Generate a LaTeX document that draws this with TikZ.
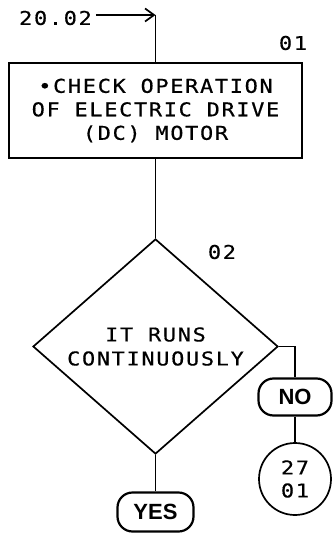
\documentclass[tikz,border=0pt]{standalone}
\usepackage{fontspec}
\newfontfamily\plotfont[LetterSpace=9,FakeStretch=1.15,FakeBold=0.6]{DejaVu Sans Mono}
\newfontfamily\tagfont{Liberation Sans}
\usetikzlibrary{shapes.geometric,arrows.meta}
\tikzset{
  stepbox/.style={draw,minimum width=293pt,minimum height=95pt,align=center,
    font=\plotfont\fontsize{19}{23.5}\selectfont},
  testbox/.style={draw,diamond,inner sep=0pt,minimum width=245pt,minimum height=213pt,
    align=center,font=\plotfont\fontsize{19}{24}\selectfont},
  exitbox/.style={draw,rounded corners=15pt,line width=2.2pt,
    font=\tagfont\bfseries\fontsize{22}{22}\selectfont},
  linkcirc/.style={draw,circle,minimum size=72pt,inner sep=0pt,align=center,
    font=\plotfont\fontsize{19}{23}\selectfont},
  tag/.style={font=\plotfont\fontsize{19}{19}\selectfont}
}
\begin{document}
\begin{tikzpicture}[x=1pt,y=-1pt,line width=1.7pt,
  >={Straight Barb[length=9pt,width=13pt]}]
\useasboundingbox (0,0) rectangle (332,534);
% entry from 20.02
\node[tag,anchor=west] (src) at (15,18) {20.02};
\coordinate (corner) at (155.5,15);
\node[stepbox] (chk) at (155.5,110.5) {•CHECK OPERATION\\OF ELECTRIC DRIVE\\(DC) MOTOR};
\node[tag] (n01) at (293,43) {01};
\draw[->] (src.east |- corner) -- (corner);
\draw (corner) -- (chk.north);
% decision
\node[testbox] (runs) at (155.5,346.5) {IT RUNS\\CONTINUOUSLY};
\node[tag] (n02) at (222,252) {02};
\draw (chk.south) -- (runs.north);
\node[exitbox,minimum width=73pt,minimum height=37pt] (no) at (295,397) {NO};
\node[linkcirc] (goto) at (295,479) {27\\01};
\node[exitbox,minimum width=76pt,minimum height=39pt] (yes) at (155.5,512) {YES};
\draw (runs.east) -| (no.north);
\draw (no) -- (goto);
\draw (runs.south) -- (yes.north);
\end{tikzpicture}
\end{document}
